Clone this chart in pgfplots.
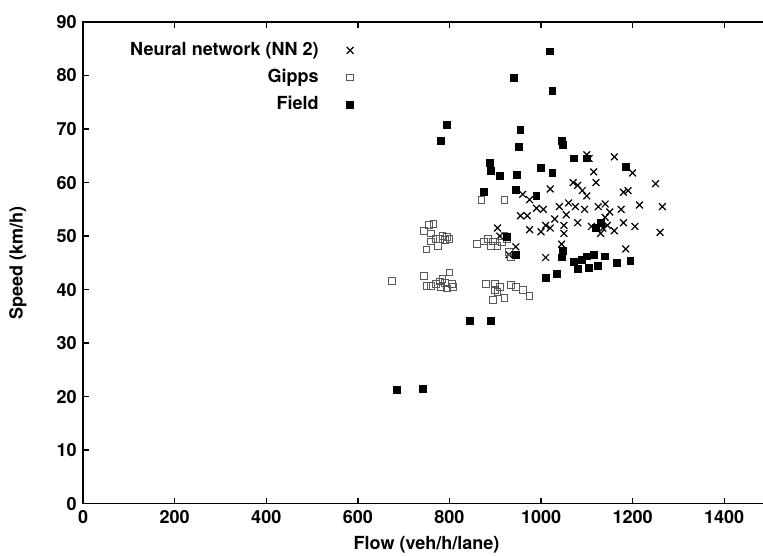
\documentclass[border=0pt]{standalone}
\usepackage{pgfplots}
\pgfplotsset{compat=1.18}
\usepackage{fontspec}
\setmainfont{TeX Gyre Heros}
\begin{document}
\fontsize{9pt}{10pt}\selectfont\bfseries
\begin{tikzpicture}
\path[use as bounding box, clip] (-41.5pt,-26pt) rectangle (339.5pt,251.5pt);
\begin{axis}[
  scale only axis,
  width=343pt, height=240.5pt,
  xmin=0, xmax=1500, ymin=0, ymax=90,
  xtick={0,200,...,1400}, ytick={0,10,...,90},
  tick align=inside,
  major tick length=3pt,
  axis line style={line width=0.7pt},
  every tick/.style={line width=0.7pt, black},
  /pgf/number format/assume math mode=true,
  /pgf/number format/1000 sep={},
  tick label style={font=\fontsize{9pt}{10pt}\selectfont\bfseries},
  xlabel={Flow (veh/h/lane)}, ylabel={Speed (km/h)},
  label style={font=\fontsize{9pt}{10pt}\selectfont\bfseries},
  xlabel style={at={(axis description cs:0.5,0)}, anchor=north, yshift=-13pt},
  ylabel style={at={(axis description cs:0,0.5)}, anchor=south, yshift=25pt},
  legend style={draw=none, fill=none, at={(rel axis cs:0.403,0.975)}, anchor=north east,
    font=\fontsize{9pt}{10pt}\selectfont\bfseries, row sep=1.5pt,
    /tikz/every odd column/.append style={column sep=12pt}},
  legend cell align=right,
  legend plot pos=right,
  legend image code/.code={\draw[#1] plot coordinates {(0pt,0pt)};},
]
\addplot[only marks, mark=x, mark size=2.4pt, black, line width=0.6pt] coordinates {
(1100,65.2) (1105,64.5) (1160,64.8) (1200,61.8) (1250,59.8) (1265,55.5) (1215,55.8) (1260,50.7)
(1180,58.2) (1190,58.5) (1205,51.8) (1180,52.5) (1185,47.6) (1175,55.0) (1160,51.0) (1140,53.5)
(1145,52.0) (1130,50.5) (1125,55.5) (1110,51.8) (1115,62.0) (1120,60.0) (1080,59.5) (1070,60.0)
(1090,58.5) (1075,55.5) (1060,56.2) (1055,54.0) (1050,52.0) (1040,55.5) (1030,53.2) (1020,51.5)
(1010,52.0) (1020,58.8) (1005,55.0) (990,55.2) (975,56.8) (975,51.2) (970,53.8) (955,53.8)
(960,57.8) (1000,50.8) (905,51.5) (910,50.0) (930,46.5) (945,48.0) (1010,46.0) (1045,48.5)
(1050,50.5) (1080,52.5) (1095,55.0) (1100,57.5) (1140,56.0) (1150,54.5) (1135,51.5)
};
\addlegendentry{Neural network (NN 2)}
\addplot[only marks, mark=square, mark size=1.7pt, gray!70!black, line width=0.5pt] coordinates {
(675,41.6) (745,42.5) (750,40.7) (760,40.7) (770,41.0) (780,41.5) (782,40.5) (785,42.0) (790,41.2)
(795,40.2) (800,43.2) (805,41.0) (808,40.5)
(745,51.0) (755,52.0) (765,52.2) (760,50.5) (770,49.5) (780,49.5) (785,50.0) (790,49.3) (800,49.5)
(750,47.5) (760,49.0) (775,48.2) (795,49.8)
(860,48.5) (875,49.0) (885,49.5) (890,48.2) (895,49.0) (900,49.0) (905,48.2) (915,48.8) (920,50.0)
(925,49.5) (870,56.8) (920,56.8)
(880,41.0) (895,38.0) (900,41.0) (905,39.5) (910,40.5) (920,38.5) (935,40.8) (945,40.5) (960,40.0)
(975,38.8) (900,40.0) (930,47.0) (935,46.0)
};
\addlegendentry{Gipps}
\addplot[only marks, mark=square*, mark size=1.7pt, black] coordinates {
(1020,84.5) (940,79.5) (1025,77.2) (795,70.8) (782,67.8) (955,69.8) (1045,67.8) (1047,67.0)
(952,66.6) (888,63.7) (890,62.2) (1000,62.7) (1025,61.8) (910,61.2) (948,61.5) (1072,64.5)
(1100,64.5) (1185,63.0) (875,58.3) (945,58.6) (990,57.5) (1048,47.2) (945,46.5) (925,49.8)
(1010,42.2) (1035,43.0) (1072,45.2) (1080,43.8) (1090,45.5) (1100,46.2) (1105,44.0) (1115,46.5)
(1125,44.5) (1140,46.2) (1165,45.0) (1195,45.4) (1120,51.6) (1130,52.5) (845,34.1) (890,34.2)
(685,21.2) (742,21.5) (1045,46.0)
};
\addlegendentry{Field}
\end{axis}
\end{tikzpicture}
\end{document}
